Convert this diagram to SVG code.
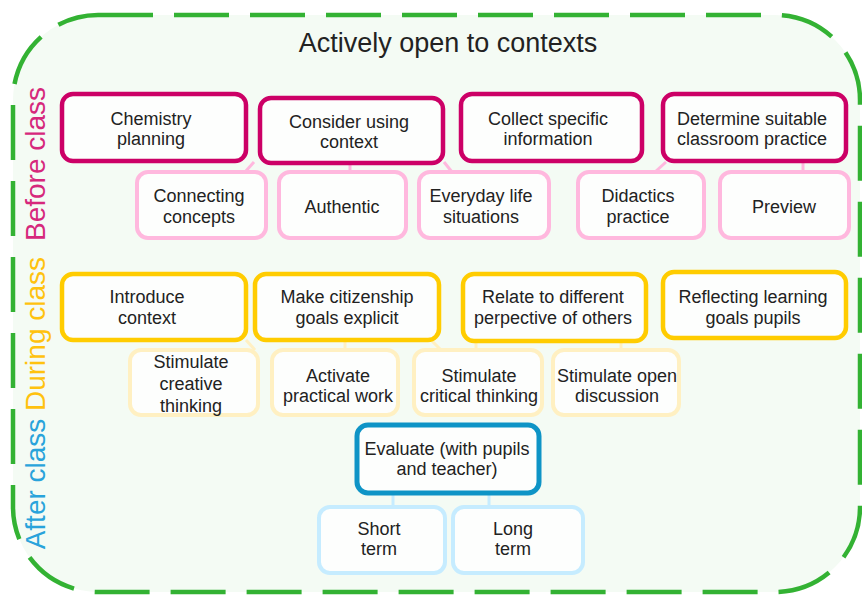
<svg xmlns="http://www.w3.org/2000/svg" width="862" height="596" viewBox="0 0 862 596">
<style>
text{font-family:"Liberation Sans",Arial,sans-serif;fill:#222;}
.t{font-size:18px;text-anchor:middle;}
.side{font-size:28px;text-anchor:middle;}
.m1{fill:#fdfefd;stroke:#cc0066;stroke-width:4.5;}
.s1{fill:#fdfefd;stroke:#ffb8de;stroke-width:4;}
.m2{fill:#fdfefd;stroke:#ffcc00;stroke-width:4.5;}
.s2{fill:#fdfefd;stroke:#fff0c2;stroke-width:4;}
.m3{fill:#fdfefd;stroke:#0e94c6;stroke-width:5;}
.s3{fill:#fdfefd;stroke:#c6ecff;stroke-width:4;}
.c1{stroke:#ffb8de;stroke-width:3;fill:none;}
.c2{stroke:#fff0c2;stroke-width:3;fill:none;}
.c3{stroke:#c6ecff;stroke-width:3;fill:none;}
</style>
<rect width="862" height="596" fill="#ffffff"/>
<g id="frame">
<rect x="13" y="15" width="847" height="577" rx="85" ry="85" fill="#f4fbf4" stroke="#33b233" stroke-width="4.5" stroke-dasharray="55 21"/>
<text x="448" y="52" style="font-size:27px;text-anchor:middle;">Actively open to contexts</text>
<text class="side" transform="translate(45,164) rotate(-90)" style="fill:#d6287c;">Before class</text>
<text class="side" transform="translate(45,334) rotate(-90)" style="fill:#ffc20e;">During class</text>
<text class="side" transform="translate(45,484) rotate(-90)" style="fill:#29a3db;">After class</text>
</g>
<g id="connectors">
<line class="c1" x1="254" y1="162" x2="245" y2="172"/>
<line class="c1" x1="350" y1="164" x2="350" y2="172"/>
<line class="c1" x1="444" y1="162" x2="452" y2="172"/>
<line class="c1" x1="666" y1="162" x2="655" y2="172"/>
<line class="c1" x1="803" y1="162" x2="803" y2="172"/>
<line class="c2" x1="246" y1="340" x2="255" y2="350"/>
<line class="c2" x1="345" y1="341" x2="345" y2="350"/>
<line class="c2" x1="432" y1="341" x2="441" y2="350"/>
<line class="c2" x1="476" y1="342" x2="476" y2="350"/>
<line class="c2" x1="621" y1="342" x2="621" y2="350"/>
<line class="c3" x1="393" y1="494" x2="393" y2="508"/>
<line class="c3" x1="489" y1="494" x2="489" y2="508"/>
</g>
<g id="chemistry-planning"><rect class="m1" x="62" y="94" width="184" height="67" rx="11"/><text class="t" x="151" y="125">Chemistry</text><text class="t" x="151" y="145">planning</text></g>
<g id="consider-using-context"><rect class="m1" x="260" y="98" width="183" height="65" rx="11"/><text class="t" x="349" y="128">Consider using</text><text class="t" x="349" y="148">context</text></g>
<g id="collect-specific-information"><rect class="m1" x="461" y="94" width="181" height="67" rx="11"/><text class="t" x="548" y="125">Collect specific</text><text class="t" x="548" y="145">information</text></g>
<g id="determine-suitable"><rect class="m1" x="663" y="94" width="183" height="67" rx="11"/><text class="t" x="752" y="125">Determine suitable</text><text class="t" x="752" y="145">classroom practice</text></g>
<g id="connecting-concepts"><rect class="s1" x="137" y="172" width="129" height="66" rx="11"/><text class="t" x="199" y="202">Connecting</text><text class="t" x="199" y="223">concepts</text></g>
<g id="authentic"><rect class="s1" x="279" y="172" width="127" height="66" rx="11"/><text class="t" x="342" y="213">Authentic</text></g>
<g id="everyday-life"><rect class="s1" x="419" y="172" width="130" height="66" rx="11"/><text class="t" x="481" y="202">Everyday life</text><text class="t" x="481" y="223">situations</text></g>
<g id="didactics-practice"><rect class="s1" x="578" y="172" width="126" height="66" rx="11"/><text class="t" x="638" y="202">Didactics</text><text class="t" x="638" y="223">practice</text></g>
<g id="preview"><rect class="s1" x="720" y="172" width="129" height="66" rx="11"/><text class="t" x="784" y="213">Preview</text></g>
<g id="introduce-context"><rect class="m2" x="62" y="274" width="184" height="66" rx="11"/><text class="t" x="147" y="303">Introduce</text><text class="t" x="147" y="324">context</text></g>
<g id="make-citizenship"><rect class="m2" x="255" y="274" width="184" height="66" rx="11"/><text class="t" x="347" y="303">Make citizenship</text><text class="t" x="347" y="324">goals explicit</text></g>
<g id="relate-different"><rect class="m2" x="463" y="274" width="183" height="67" rx="11"/><text class="t" x="553" y="303">Relate to different</text><text class="t" x="553" y="324">perpective of others</text></g>
<g id="reflecting-learning"><rect class="m2" x="663" y="272" width="183" height="66" rx="11"/><text class="t" x="753" y="303">Reflecting learning</text><text class="t" x="753" y="324">goals pupils</text></g>
<g id="stimulate-creative"><rect class="s2" x="130" y="350" width="128" height="65" rx="11"/><text class="t" x="191" y="368">Stimulate</text><text class="t" x="191" y="390">creative</text><text class="t" x="191" y="412">thinking</text></g>
<g id="activate-practical"><rect class="s2" x="272" y="350" width="126" height="65" rx="11"/><text class="t" x="338" y="382">Activate</text><text class="t" x="338" y="402">practical work</text></g>
<g id="stimulate-critical"><rect class="s2" x="414" y="350" width="128" height="65" rx="11"/><text class="t" x="479" y="382">Stimulate</text><text class="t" x="479" y="402">critical thinking</text></g>
<g id="stimulate-open"><rect class="s2" x="553" y="350" width="126" height="65" rx="11"/><text class="t" x="617" y="382">Stimulate open</text><text class="t" x="617" y="402">discussion</text></g>
<g id="evaluate"><rect class="m3" x="357" y="425" width="182" height="68" rx="11"/><text class="t" x="447" y="455">Evaluate (with pupils</text><text class="t" x="447" y="475">and teacher)</text></g>
<g id="short-term"><rect class="s3" x="319" y="507" width="126" height="66" rx="11"/><text class="t" x="379" y="535">Short</text><text class="t" x="379" y="555">term</text></g>
<g id="long-term"><rect class="s3" x="453" y="507" width="130" height="66" rx="11"/><text class="t" x="513" y="535">Long</text><text class="t" x="513" y="555">term</text></g>
</svg>
